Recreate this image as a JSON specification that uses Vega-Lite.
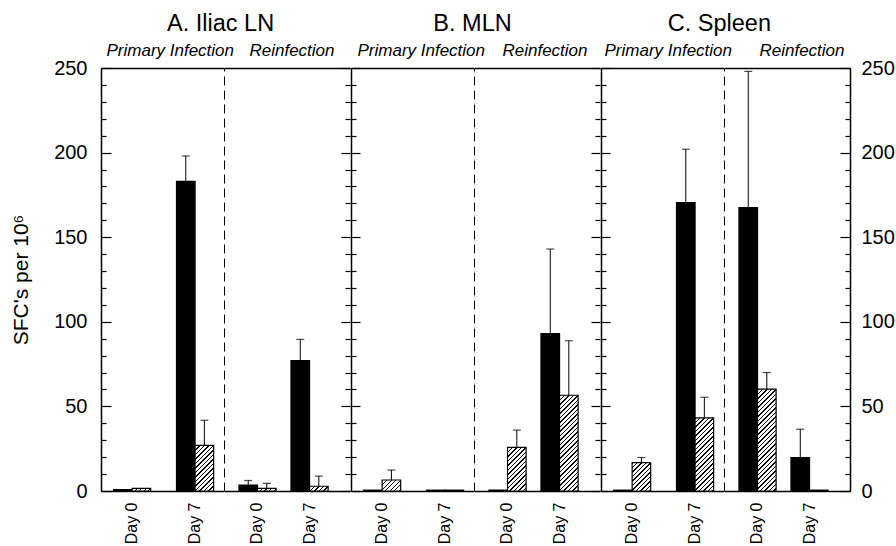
{
"$schema":"https://vega.github.io/schema/vega-lite/v6.json",
"background":"white",
"padding":{"left":10,"top":11,"right":0,"bottom":0},
"params":[{"name":"hatch","value":[
{"offset":0,"color":"#000"},{"offset":0.0107,"color":"#000"},{"offset":0.0107,"color":"#fff"},{"offset":0.0357,"color":"#fff"},
{"offset":0.0357,"color":"#000"},{"offset":0.0464,"color":"#000"},{"offset":0.0464,"color":"#fff"},{"offset":0.0714,"color":"#fff"},
{"offset":0.0714,"color":"#000"},{"offset":0.0821,"color":"#000"},{"offset":0.0821,"color":"#fff"},{"offset":0.1071,"color":"#fff"},
{"offset":0.1071,"color":"#000"},{"offset":0.1179,"color":"#000"},{"offset":0.1179,"color":"#fff"},{"offset":0.1429,"color":"#fff"},
{"offset":0.1429,"color":"#000"},{"offset":0.1536,"color":"#000"},{"offset":0.1536,"color":"#fff"},{"offset":0.1786,"color":"#fff"},
{"offset":0.1786,"color":"#000"},{"offset":0.1893,"color":"#000"},{"offset":0.1893,"color":"#fff"},{"offset":0.2143,"color":"#fff"},
{"offset":0.2143,"color":"#000"},{"offset":0.225,"color":"#000"},{"offset":0.225,"color":"#fff"},{"offset":0.25,"color":"#fff"},
{"offset":0.25,"color":"#000"},{"offset":0.2607,"color":"#000"},{"offset":0.2607,"color":"#fff"},{"offset":0.2857,"color":"#fff"},
{"offset":0.2857,"color":"#000"},{"offset":0.2964,"color":"#000"},{"offset":0.2964,"color":"#fff"},{"offset":0.3214,"color":"#fff"},
{"offset":0.3214,"color":"#000"},{"offset":0.3321,"color":"#000"},{"offset":0.3321,"color":"#fff"},{"offset":0.3571,"color":"#fff"},
{"offset":0.3571,"color":"#000"},{"offset":0.3679,"color":"#000"},{"offset":0.3679,"color":"#fff"},{"offset":0.3929,"color":"#fff"},
{"offset":0.3929,"color":"#000"},{"offset":0.4036,"color":"#000"},{"offset":0.4036,"color":"#fff"},{"offset":0.4286,"color":"#fff"},
{"offset":0.4286,"color":"#000"},{"offset":0.4393,"color":"#000"},{"offset":0.4393,"color":"#fff"},{"offset":0.4643,"color":"#fff"},
{"offset":0.4643,"color":"#000"},{"offset":0.475,"color":"#000"},{"offset":0.475,"color":"#fff"},{"offset":0.5,"color":"#fff"},
{"offset":0.5,"color":"#000"},{"offset":0.5107,"color":"#000"},{"offset":0.5107,"color":"#fff"},{"offset":0.5357,"color":"#fff"},
{"offset":0.5357,"color":"#000"},{"offset":0.5464,"color":"#000"},{"offset":0.5464,"color":"#fff"},{"offset":0.5714,"color":"#fff"},
{"offset":0.5714,"color":"#000"},{"offset":0.5821,"color":"#000"},{"offset":0.5821,"color":"#fff"},{"offset":0.6071,"color":"#fff"},
{"offset":0.6071,"color":"#000"},{"offset":0.6179,"color":"#000"},{"offset":0.6179,"color":"#fff"},{"offset":0.6429,"color":"#fff"},
{"offset":0.6429,"color":"#000"},{"offset":0.6536,"color":"#000"},{"offset":0.6536,"color":"#fff"},{"offset":0.6786,"color":"#fff"},
{"offset":0.6786,"color":"#000"},{"offset":0.6893,"color":"#000"},{"offset":0.6893,"color":"#fff"},{"offset":0.7143,"color":"#fff"},
{"offset":0.7143,"color":"#000"},{"offset":0.725,"color":"#000"},{"offset":0.725,"color":"#fff"},{"offset":0.75,"color":"#fff"},
{"offset":0.75,"color":"#000"},{"offset":0.7607,"color":"#000"},{"offset":0.7607,"color":"#fff"},{"offset":0.7857,"color":"#fff"},
{"offset":0.7857,"color":"#000"},{"offset":0.7964,"color":"#000"},{"offset":0.7964,"color":"#fff"},{"offset":0.8214,"color":"#fff"},
{"offset":0.8214,"color":"#000"},{"offset":0.8321,"color":"#000"},{"offset":0.8321,"color":"#fff"},{"offset":0.8571,"color":"#fff"},
{"offset":0.8571,"color":"#000"},{"offset":0.8679,"color":"#000"},{"offset":0.8679,"color":"#fff"},{"offset":0.8929,"color":"#fff"},
{"offset":0.8929,"color":"#000"},{"offset":0.9036,"color":"#000"},{"offset":0.9036,"color":"#fff"},{"offset":0.9286,"color":"#fff"},
{"offset":0.9286,"color":"#000"},{"offset":0.9393,"color":"#000"},{"offset":0.9393,"color":"#fff"},{"offset":0.9643,"color":"#fff"},
{"offset":0.9643,"color":"#000"},{"offset":0.975,"color":"#000"},{"offset":0.975,"color":"#fff"},{"offset":1,"color":"#fff"}
]}],
"data":{"values":[
{"tissue":"Iliac LN","phase":"Primary Infection","day":"Day 0","series":"Series 1","value":0.8,"upper":null},
{"tissue":"Iliac LN","phase":"Primary Infection","day":"Day 0","series":"Series 2","value":1.5,"upper":null},
{"tissue":"Iliac LN","phase":"Primary Infection","day":"Day 7","series":"Series 1","value":183,"upper":198},
{"tissue":"Iliac LN","phase":"Primary Infection","day":"Day 7","series":"Series 2","value":27,"upper":41.8},
{"tissue":"Iliac LN","phase":"Reinfection","day":"Day 0","series":"Series 1","value":3.5,"upper":6.2},
{"tissue":"Iliac LN","phase":"Reinfection","day":"Day 0","series":"Series 2","value":1.5,"upper":4.5},
{"tissue":"Iliac LN","phase":"Reinfection","day":"Day 7","series":"Series 1","value":77,"upper":89.6},
{"tissue":"Iliac LN","phase":"Reinfection","day":"Day 7","series":"Series 2","value":2.8,"upper":8.8},
{"tissue":"MLN","phase":"Primary Infection","day":"Day 0","series":"Series 1","value":0.5,"upper":null},
{"tissue":"MLN","phase":"Primary Infection","day":"Day 0","series":"Series 2","value":6.5,"upper":12.4},
{"tissue":"MLN","phase":"Primary Infection","day":"Day 7","series":"Series 1","value":0.5,"upper":null},
{"tissue":"MLN","phase":"Primary Infection","day":"Day 7","series":"Series 2","value":0.5,"upper":null},
{"tissue":"MLN","phase":"Reinfection","day":"Day 0","series":"Series 1","value":0.5,"upper":null},
{"tissue":"MLN","phase":"Reinfection","day":"Day 0","series":"Series 2","value":25.8,"upper":36},
{"tissue":"MLN","phase":"Reinfection","day":"Day 7","series":"Series 1","value":93,"upper":143},
{"tissue":"MLN","phase":"Reinfection","day":"Day 7","series":"Series 2","value":56.6,"upper":88.8},
{"tissue":"Spleen","phase":"Primary Infection","day":"Day 0","series":"Series 1","value":0.5,"upper":null},
{"tissue":"Spleen","phase":"Primary Infection","day":"Day 0","series":"Series 2","value":16.8,"upper":19.8},
{"tissue":"Spleen","phase":"Primary Infection","day":"Day 7","series":"Series 1","value":170.5,"upper":202},
{"tissue":"Spleen","phase":"Primary Infection","day":"Day 7","series":"Series 2","value":43.2,"upper":55.4},
{"tissue":"Spleen","phase":"Reinfection","day":"Day 0","series":"Series 1","value":167.5,"upper":248},
{"tissue":"Spleen","phase":"Reinfection","day":"Day 0","series":"Series 2","value":60.2,"upper":70},
{"tissue":"Spleen","phase":"Reinfection","day":"Day 7","series":"Series 1","value":19.8,"upper":36.5},
{"tissue":"Spleen","phase":"Reinfection","day":"Day 7","series":"Series 2","value":0.5,"upper":null}
]},
"config":{"font":"Liberation Sans","view":{"stroke":null},"axis":{"grid":false},"title":{"fontWeight":"normal","color":"black"}},
"spacing":-3.5,
"hconcat":[
{"title":{"text":"A. Iliac LN","fontSize":23.5,"fontWeight":"normal","color":"black","anchor":"middle","offset":7,"dx":40},
 "spacing":0,"bounds":"flush",
 "hconcat":[
 {"width":122.5,"height":423,
  "title":{"text":"Primary Infection","fontSize":17,"fontStyle":"italic","fontWeight":"normal","color":"black","offset":7,"anchor":"middle","frame":"group","dx":8,"dy":9},
  "transform":[{"filter":"datum.tissue === 'Iliac LN' && datum.phase === 'Primary Infection'"}],
  "resolve":{"axis":{"x":"independent","y":"independent"}},
  "layer":[
   {"mark":{"type":"bar","stroke":"black","strokeWidth":1.2},
    "encoding":{
     "x":{"field":"day","type":"nominal","scale":{"domain":["Day 0","Day 7"],"paddingInner":0.41,"paddingOuter":0.178,"align":0.56},
          "axis":{"orient":"bottom","title":null,"domain":true,"domainColor":"black","domainWidth":1.5,"ticks":false,"labelAngle":270,"labelFontSize":16,"labelColor":"black","labelPadding":11,"grid":false}},
     "xOffset":{"field":"series","type":"nominal","scale":{"domain":["Series 1","Series 2"],"paddingInner":0,"paddingOuter":0}},
     "y":{"field":"value","type":"quantitative","scale":{"domain":[0,250],"nice":false},
          "axis":{"orient":"left","values":[0,10,20,30,40,50,60,70,80,90,100,110,120,130,140,150,160,170,180,190,200,210,220,230,240,250],"domain":true,"domainColor":"black","domainWidth":1.5,"ticks":true,"tickColor":"black","tickWidth":1.2,"tickSize":{"condition":{"test":"datum.value % 50 === 0","value":-10},"value":-5},"labelExpr":"datum.value % 50 === 0 ? datum.label : ''","labelOverlap":false,"labelFontSize":20,"labelColor":"black","labelPadding":24,"title":"SFC's per 10⁶","titleFontSize":21,"titleFontWeight":"normal","titleColor":"black","titlePadding":22,"grid":false}},
     "fill":{"value":{"expr":"datum.series === 'Series 1' ? 'black' : {gradient: 'linear', x1: 0, y1: 0, x2: 126*18.55/(344.1+pow(max(datum.value*1.692,1),2)), y2: 126*max(datum.value*1.692,1)/(344.1+pow(max(datum.value*1.692,1),2)), stops: hatch}"}}}},
   {"transform":[{"filter":"isValid(datum.upper)"}],
    "mark":{"type":"rule","color":"black","strokeWidth":1},
    "encoding":{
     "x":{"field":"day","type":"nominal","scale":{"domain":["Day 0","Day 7"],"paddingInner":0.41,"paddingOuter":0.178,"align":0.56},"axis":{"orient":"top","title":null,"labels":false,"ticks":false,"domain":true,"domainColor":"black","domainWidth":1.5,"grid":false}},
     "xOffset":{"field":"series","type":"nominal","scale":{"domain":["Series 1","Series 2"],"paddingInner":0,"paddingOuter":0}},
     "y":{"field":"value","type":"quantitative","scale":{"domain":[0,250],"nice":false},"axis":null},
     "y2":{"field":"upper"}}},
   {"transform":[{"filter":"isValid(datum.upper)"}],
    "mark":{"type":"tick","color":"black","thickness":1.2,"size":8,"orient":"horizontal"},
    "encoding":{
     "x":{"field":"day","type":"nominal","scale":{"domain":["Day 0","Day 7"],"paddingInner":0.41,"paddingOuter":0.178,"align":0.56},"axis":null},
     "xOffset":{"field":"series","type":"nominal","scale":{"domain":["Series 1","Series 2"],"paddingInner":0,"paddingOuter":0}},
     "y":{"field":"upper","type":"quantitative","scale":{"domain":[0,250],"nice":false},"axis":null}}}
  ]},
 {"width":126,"height":423,
  "title":{"text":"Reinfection","fontSize":17,"fontStyle":"italic","fontWeight":"normal","color":"black","offset":7,"anchor":"middle","frame":"group","dx":5},
  "transform":[{"filter":"datum.tissue === 'Iliac LN' && datum.phase === 'Reinfection'"}],
  "resolve":{"axis":{"x":"independent","y":"independent"}},
  "layer":[
   {"mark":{"type":"bar","stroke":"black","strokeWidth":1.2},
    "encoding":{
     "x":{"field":"day","type":"nominal","scale":{"domain":["Day 0","Day 7"],"paddingInner":0.288,"paddingOuter":0.355,"align":0.405},
          "axis":{"orient":"bottom","title":null,"domain":true,"domainColor":"black","domainWidth":1.5,"ticks":false,"labelAngle":270,"labelFontSize":16,"labelColor":"black","labelPadding":11,"grid":false}},
     "xOffset":{"field":"series","type":"nominal","scale":{"domain":["Series 1","Series 2"],"paddingInner":0,"paddingOuter":0}},
     "y":{"field":"value","type":"quantitative","scale":{"domain":[0,250],"nice":false},
          "axis":{"orient":"left","title":null,"labels":false,"ticks":false,"domain":true,"domainColor":"black","domainWidth":1,"domainDash":[9,5],"grid":false}},
     "fill":{"value":{"expr":"datum.series === 'Series 1' ? 'black' : {gradient: 'linear', x1: 0, y1: 0, x2: 126*18.55/(344.1+pow(max(datum.value*1.692,1),2)), y2: 126*max(datum.value*1.692,1)/(344.1+pow(max(datum.value*1.692,1),2)), stops: hatch}"}}}},
   {"transform":[{"filter":"isValid(datum.upper)"}],
    "mark":{"type":"rule","color":"black","strokeWidth":1},
    "encoding":{
     "x":{"field":"day","type":"nominal","scale":{"domain":["Day 0","Day 7"],"paddingInner":0.288,"paddingOuter":0.355,"align":0.405},"axis":{"orient":"top","title":null,"labels":false,"ticks":false,"domain":true,"domainColor":"black","domainWidth":1.5,"grid":false}},
     "xOffset":{"field":"series","type":"nominal","scale":{"domain":["Series 1","Series 2"],"paddingInner":0,"paddingOuter":0}},
     "y":{"field":"value","type":"quantitative","scale":{"domain":[0,250],"nice":false},
          "axis":{"orient":"right","values":[0,10,20,30,40,50,60,70,80,90,100,110,120,130,140,150,160,170,180,190,200,210,220,230,240,250],"domain":false,"ticks":true,"tickColor":"black","tickWidth":1.2,"tickSize":{"condition":{"test":"datum.value % 50 === 0","value":-9},"value":-5},"labels":false,"title":null,"grid":false}},
     "y2":{"field":"upper"}}},
   {"transform":[{"filter":"isValid(datum.upper)"}],
    "mark":{"type":"tick","color":"black","thickness":1.2,"size":8,"orient":"horizontal"},
    "encoding":{
     "x":{"field":"day","type":"nominal","scale":{"domain":["Day 0","Day 7"],"paddingInner":0.288,"paddingOuter":0.355,"align":0.405},"axis":null},
     "xOffset":{"field":"series","type":"nominal","scale":{"domain":["Series 1","Series 2"],"paddingInner":0,"paddingOuter":0}},
     "y":{"field":"upper","type":"quantitative","scale":{"domain":[0,250],"nice":false},"axis":null}}}
  ]}
 ]},
{"title":{"text":"B. MLN","fontSize":23.5,"fontWeight":"normal","color":"black","anchor":"middle","offset":7,"dx":-3},
 "spacing":0,"bounds":"flush",
 "hconcat":[
 {"width":122.5,"height":423,
  "title":{"text":"Primary Infection","fontSize":17,"fontStyle":"italic","fontWeight":"normal","color":"black","offset":7,"anchor":"middle","frame":"group","dx":9},
  "transform":[{"filter":"datum.tissue === 'MLN' && datum.phase === 'Primary Infection'"}],
  "resolve":{"axis":{"x":"independent","y":"independent"}},
  "layer":[
   {"mark":{"type":"bar","stroke":"black","strokeWidth":1.2},
    "encoding":{
     "x":{"field":"day","type":"nominal","scale":{"domain":["Day 0","Day 7"],"paddingInner":0.41,"paddingOuter":0.178,"align":0.56},
          "axis":{"orient":"bottom","title":null,"domain":true,"domainColor":"black","domainWidth":1.5,"ticks":false,"labelAngle":270,"labelFontSize":16,"labelColor":"black","labelPadding":11,"grid":false}},
     "xOffset":{"field":"series","type":"nominal","scale":{"domain":["Series 1","Series 2"],"paddingInner":0,"paddingOuter":0}},
     "y":{"field":"value","type":"quantitative","scale":{"domain":[0,250],"nice":false},
          "axis":{"orient":"left","values":[0,10,20,30,40,50,60,70,80,90,100,110,120,130,140,150,160,170,180,190,200,210,220,230,240,250],"domain":true,"domainColor":"black","domainWidth":1.5,"ticks":true,"tickColor":"black","tickWidth":1.2,"tickSize":{"condition":{"test":"datum.value % 50 === 0","value":-9},"value":-5},"labels":false,"title":null,"grid":false}},
     "fill":{"value":{"expr":"datum.series === 'Series 1' ? 'black' : {gradient: 'linear', x1: 0, y1: 0, x2: 126*18.55/(344.1+pow(max(datum.value*1.692,1),2)), y2: 126*max(datum.value*1.692,1)/(344.1+pow(max(datum.value*1.692,1),2)), stops: hatch}"}}}},
   {"transform":[{"filter":"isValid(datum.upper)"}],
    "mark":{"type":"rule","color":"black","strokeWidth":1},
    "encoding":{
     "x":{"field":"day","type":"nominal","scale":{"domain":["Day 0","Day 7"],"paddingInner":0.41,"paddingOuter":0.178,"align":0.56},"axis":{"orient":"top","title":null,"labels":false,"ticks":false,"domain":true,"domainColor":"black","domainWidth":1.5,"grid":false}},
     "xOffset":{"field":"series","type":"nominal","scale":{"domain":["Series 1","Series 2"],"paddingInner":0,"paddingOuter":0}},
     "y":{"field":"value","type":"quantitative","scale":{"domain":[0,250],"nice":false},"axis":null},
     "y2":{"field":"upper"}}},
   {"transform":[{"filter":"isValid(datum.upper)"}],
    "mark":{"type":"tick","color":"black","thickness":1.2,"size":8,"orient":"horizontal"},
    "encoding":{
     "x":{"field":"day","type":"nominal","scale":{"domain":["Day 0","Day 7"],"paddingInner":0.41,"paddingOuter":0.178,"align":0.56},"axis":null},
     "xOffset":{"field":"series","type":"nominal","scale":{"domain":["Series 1","Series 2"],"paddingInner":0,"paddingOuter":0}},
     "y":{"field":"upper","type":"quantitative","scale":{"domain":[0,250],"nice":false},"axis":null}}}
  ]},
 {"width":126,"height":423,
  "title":{"text":"Reinfection","fontSize":17,"fontStyle":"italic","fontWeight":"normal","color":"black","offset":7,"anchor":"middle","frame":"group","dx":8},
  "transform":[{"filter":"datum.tissue === 'MLN' && datum.phase === 'Reinfection'"}],
  "resolve":{"axis":{"x":"independent","y":"independent"}},
  "layer":[
   {"mark":{"type":"bar","stroke":"black","strokeWidth":1.2},
    "encoding":{
     "x":{"field":"day","type":"nominal","scale":{"domain":["Day 0","Day 7"],"paddingInner":0.288,"paddingOuter":0.355,"align":0.405},
          "axis":{"orient":"bottom","title":null,"domain":true,"domainColor":"black","domainWidth":1.5,"ticks":false,"labelAngle":270,"labelFontSize":16,"labelColor":"black","labelPadding":11,"grid":false}},
     "xOffset":{"field":"series","type":"nominal","scale":{"domain":["Series 1","Series 2"],"paddingInner":0,"paddingOuter":0}},
     "y":{"field":"value","type":"quantitative","scale":{"domain":[0,250],"nice":false},
          "axis":{"orient":"left","title":null,"labels":false,"ticks":false,"domain":true,"domainColor":"black","domainWidth":1,"domainDash":[9,5],"grid":false}},
     "fill":{"value":{"expr":"datum.series === 'Series 1' ? 'black' : {gradient: 'linear', x1: 0, y1: 0, x2: 126*18.55/(344.1+pow(max(datum.value*1.692,1),2)), y2: 126*max(datum.value*1.692,1)/(344.1+pow(max(datum.value*1.692,1),2)), stops: hatch}"}}}},
   {"transform":[{"filter":"isValid(datum.upper)"}],
    "mark":{"type":"rule","color":"black","strokeWidth":1},
    "encoding":{
     "x":{"field":"day","type":"nominal","scale":{"domain":["Day 0","Day 7"],"paddingInner":0.288,"paddingOuter":0.355,"align":0.405},"axis":{"orient":"top","title":null,"labels":false,"ticks":false,"domain":true,"domainColor":"black","domainWidth":1.5,"grid":false}},
     "xOffset":{"field":"series","type":"nominal","scale":{"domain":["Series 1","Series 2"],"paddingInner":0,"paddingOuter":0}},
     "y":{"field":"value","type":"quantitative","scale":{"domain":[0,250],"nice":false},
          "axis":{"orient":"right","values":[0,10,20,30,40,50,60,70,80,90,100,110,120,130,140,150,160,170,180,190,200,210,220,230,240,250],"domain":false,"ticks":true,"tickColor":"black","tickWidth":1.2,"tickSize":{"condition":{"test":"datum.value % 50 === 0","value":-9},"value":-5},"labels":false,"title":null,"grid":false}},
     "y2":{"field":"upper"}}},
   {"transform":[{"filter":"isValid(datum.upper)"}],
    "mark":{"type":"tick","color":"black","thickness":1.2,"size":8,"orient":"horizontal"},
    "encoding":{
     "x":{"field":"day","type":"nominal","scale":{"domain":["Day 0","Day 7"],"paddingInner":0.288,"paddingOuter":0.355,"align":0.405},"axis":null},
     "xOffset":{"field":"series","type":"nominal","scale":{"domain":["Series 1","Series 2"],"paddingInner":0,"paddingOuter":0}},
     "y":{"field":"upper","type":"quantitative","scale":{"domain":[0,250],"nice":false},"axis":null}}}
  ]}
 ]},
{"title":{"text":"C. Spleen","fontSize":23.5,"fontWeight":"normal","color":"black","anchor":"middle","offset":7,"dx":-28},
 "spacing":0,"bounds":"flush",
 "hconcat":[
 {"width":122.5,"height":423,
  "title":{"text":"Primary Infection","fontSize":17,"fontStyle":"italic","fontWeight":"normal","color":"black","offset":7,"anchor":"middle","frame":"group","dx":6},
  "transform":[{"filter":"datum.tissue === 'Spleen' && datum.phase === 'Primary Infection'"}],
  "resolve":{"axis":{"x":"independent","y":"independent"}},
  "layer":[
   {"mark":{"type":"bar","stroke":"black","strokeWidth":1.2},
    "encoding":{
     "x":{"field":"day","type":"nominal","scale":{"domain":["Day 0","Day 7"],"paddingInner":0.41,"paddingOuter":0.178,"align":0.56},
          "axis":{"orient":"bottom","title":null,"domain":true,"domainColor":"black","domainWidth":1.5,"ticks":false,"labelAngle":270,"labelFontSize":16,"labelColor":"black","labelPadding":11,"grid":false}},
     "xOffset":{"field":"series","type":"nominal","scale":{"domain":["Series 1","Series 2"],"paddingInner":0,"paddingOuter":0}},
     "y":{"field":"value","type":"quantitative","scale":{"domain":[0,250],"nice":false},
          "axis":{"orient":"left","values":[0,10,20,30,40,50,60,70,80,90,100,110,120,130,140,150,160,170,180,190,200,210,220,230,240,250],"domain":true,"domainColor":"black","domainWidth":1.5,"ticks":true,"tickColor":"black","tickWidth":1.2,"tickSize":{"condition":{"test":"datum.value % 50 === 0","value":-9},"value":-5},"labels":false,"title":null,"grid":false}},
     "fill":{"value":{"expr":"datum.series === 'Series 1' ? 'black' : {gradient: 'linear', x1: 0, y1: 0, x2: 126*18.55/(344.1+pow(max(datum.value*1.692,1),2)), y2: 126*max(datum.value*1.692,1)/(344.1+pow(max(datum.value*1.692,1),2)), stops: hatch}"}}}},
   {"transform":[{"filter":"isValid(datum.upper)"}],
    "mark":{"type":"rule","color":"black","strokeWidth":1},
    "encoding":{
     "x":{"field":"day","type":"nominal","scale":{"domain":["Day 0","Day 7"],"paddingInner":0.41,"paddingOuter":0.178,"align":0.56},"axis":{"orient":"top","title":null,"labels":false,"ticks":false,"domain":true,"domainColor":"black","domainWidth":1.5,"grid":false}},
     "xOffset":{"field":"series","type":"nominal","scale":{"domain":["Series 1","Series 2"],"paddingInner":0,"paddingOuter":0}},
     "y":{"field":"value","type":"quantitative","scale":{"domain":[0,250],"nice":false},"axis":null},
     "y2":{"field":"upper"}}},
   {"transform":[{"filter":"isValid(datum.upper)"}],
    "mark":{"type":"tick","color":"black","thickness":1.2,"size":8,"orient":"horizontal"},
    "encoding":{
     "x":{"field":"day","type":"nominal","scale":{"domain":["Day 0","Day 7"],"paddingInner":0.41,"paddingOuter":0.178,"align":0.56},"axis":null},
     "xOffset":{"field":"series","type":"nominal","scale":{"domain":["Series 1","Series 2"],"paddingInner":0,"paddingOuter":0}},
     "y":{"field":"upper","type":"quantitative","scale":{"domain":[0,250],"nice":false},"axis":null}}}
  ]},
 {"width":126,"height":423,
  "title":{"text":"Reinfection","fontSize":17,"fontStyle":"italic","fontWeight":"normal","color":"black","offset":7,"anchor":"middle","frame":"group","dx":15,"dy":9},
  "transform":[{"filter":"datum.tissue === 'Spleen' && datum.phase === 'Reinfection'"}],
  "resolve":{"axis":{"x":"independent","y":"independent"}},
  "layer":[
   {"mark":{"type":"bar","stroke":"black","strokeWidth":1.2},
    "encoding":{
     "x":{"field":"day","type":"nominal","scale":{"domain":["Day 0","Day 7"],"paddingInner":0.288,"paddingOuter":0.355,"align":0.405},
          "axis":{"orient":"bottom","title":null,"domain":true,"domainColor":"black","domainWidth":1.5,"ticks":false,"labelAngle":270,"labelFontSize":16,"labelColor":"black","labelPadding":11,"grid":false}},
     "xOffset":{"field":"series","type":"nominal","scale":{"domain":["Series 1","Series 2"],"paddingInner":0,"paddingOuter":0}},
     "y":{"field":"value","type":"quantitative","scale":{"domain":[0,250],"nice":false},
          "axis":{"orient":"left","title":null,"labels":false,"ticks":false,"domain":true,"domainColor":"black","domainWidth":1,"domainDash":[9,5],"grid":false}},
     "fill":{"value":{"expr":"datum.series === 'Series 1' ? 'black' : {gradient: 'linear', x1: 0, y1: 0, x2: 126*18.55/(344.1+pow(max(datum.value*1.692,1),2)), y2: 126*max(datum.value*1.692,1)/(344.1+pow(max(datum.value*1.692,1),2)), stops: hatch}"}}}},
   {"transform":[{"filter":"isValid(datum.upper)"}],
    "mark":{"type":"rule","color":"black","strokeWidth":1},
    "encoding":{
     "x":{"field":"day","type":"nominal","scale":{"domain":["Day 0","Day 7"],"paddingInner":0.288,"paddingOuter":0.355,"align":0.405},"axis":{"orient":"top","title":null,"labels":false,"ticks":false,"domain":true,"domainColor":"black","domainWidth":1.5,"grid":false}},
     "xOffset":{"field":"series","type":"nominal","scale":{"domain":["Series 1","Series 2"],"paddingInner":0,"paddingOuter":0}},
     "y":{"field":"value","type":"quantitative","scale":{"domain":[0,250],"nice":false},
          "axis":{"orient":"right","values":[0,10,20,30,40,50,60,70,80,90,100,110,120,130,140,150,160,170,180,190,200,210,220,230,240,250],"domain":true,"domainColor":"black","domainWidth":1.5,"ticks":true,"tickColor":"black","tickWidth":1.2,"tickSize":{"condition":{"test":"datum.value % 50 === 0","value":-10},"value":-5},"labelExpr":"datum.value % 50 === 0 ? datum.label : ''","labelOverlap":false,"labelFontSize":20,"labelColor":"black","labelPadding":21,"title":null,"grid":false}},
     "y2":{"field":"upper"}}},
   {"transform":[{"filter":"isValid(datum.upper)"}],
    "mark":{"type":"tick","color":"black","thickness":1.2,"size":8,"orient":"horizontal"},
    "encoding":{
     "x":{"field":"day","type":"nominal","scale":{"domain":["Day 0","Day 7"],"paddingInner":0.288,"paddingOuter":0.355,"align":0.405},"axis":null},
     "xOffset":{"field":"series","type":"nominal","scale":{"domain":["Series 1","Series 2"],"paddingInner":0,"paddingOuter":0}},
     "y":{"field":"upper","type":"quantitative","scale":{"domain":[0,250],"nice":false},"axis":null}}}
  ]}
 ]}
]
}
